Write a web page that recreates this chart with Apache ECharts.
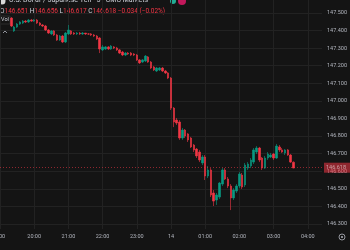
<!DOCTYPE html>
<html>
<head>
<meta charset="utf-8">
<script src="https://cdn.jsdelivr.net/npm/echarts@6/dist/echarts.min.js"></script>
<style>
html,body{margin:0;padding:0;background:#141414;}
#c{width:350px;height:250px;}
</style>
</head>
<body>
<div id="c"></div>
<script>
// Axis categories (5-minute bars)
var axisTimes = [
'19:00','19:05','19:10','19:15','19:20','19:25','19:30','19:35','19:40','19:45','19:50','19:55',
'20:00','20:05','20:10','20:15','20:20','20:25','20:30','20:35','20:40','20:45','20:50','20:55',
'21:00','21:05','21:10','21:15','21:20','21:25','21:30','21:35','21:40','21:45','21:50','21:55',
'22:00','22:05','22:10','22:15','22:20','22:25','22:30','22:35','22:40','22:45','22:50','22:55',
'23:00','23:05','23:10','23:15','23:20','23:25','23:30','23:35','23:40','23:45','23:50','23:55',
'00:00','00:05','00:10','00:15','00:20','00:25','00:30','00:35','00:40','00:45','00:50','00:55',
'01:00','01:05','01:10','01:15','01:20','01:25','01:30','01:35','01:40','01:45','01:50','01:55',
'02:00','02:05','02:10','02:15','02:20','02:25','02:30','02:35','02:40','02:45','02:50','02:55',
'03:00','03:05','03:10','03:15','03:20','03:25','03:30','03:35','03:40','03:45','03:50','03:55',
'04:00','04:05','04:10','04:15','04:20','04:25'
];

// Candle times
var candleTimes = [
'19:20','19:25','19:30','19:35','19:40','19:45','19:50','19:55','20:00','20:05',
'20:10','20:15','20:20','20:25','20:30','20:35','20:40','20:45','20:50','20:55',
'21:00','21:05','21:10','21:15','21:20','21:25','21:30','21:35','21:40','21:45',
'21:50','21:55','22:00','22:05','22:10','22:15','22:20','22:25','22:30','22:35',
'22:40','22:45','22:50','22:55','23:00','23:05','23:10','23:15','23:20','23:25',
'23:30','23:35','23:40','23:45','23:50','23:55','00:00','00:05','00:10','00:15',
'00:20','00:25','00:30','00:35','00:40','00:45','00:50','00:55','01:00','01:05',
'01:10','01:15','01:20','01:25','01:30','01:35','01:40','01:45','01:50','01:55',
'02:00','02:05','02:10','02:15','02:20','02:25','02:30','02:35','02:40','02:45',
'02:50','02:55','03:00','03:05','03:10','03:15','03:20','03:25','03:30','03:35'
];

var opens = [
147.471,147.398,147.420,147.437,147.443,147.454,147.449,147.460,147.454,147.460,
147.443,147.432,147.426,147.403,147.381,147.398,147.375,147.346,147.369,147.335,
147.381,147.398,147.386,147.381,147.386,147.381,147.386,147.381,147.381,147.375,
147.369,147.358,147.290,147.295,147.307,147.295,147.307,147.301,147.290,147.278,
147.261,147.272,147.272,147.267,147.261,147.233,147.221,147.227,147.250,147.221,
147.193,147.170,147.176,147.187,147.170,147.159,147.130,146.959,146.891,146.880,
146.789,146.834,146.812,146.789,146.749,146.726,146.709,146.647,146.681,146.573,
146.607,146.476,146.436,146.453,146.527,146.607,146.556,146.516,146.448,146.487,
146.516,146.578,146.522,146.618,146.630,146.652,146.709,146.732,146.675,146.618,
146.675,146.681,146.698,146.675,146.738,146.721,146.704,146.721,146.692,146.651
];
var closes = [
147.426,147.420,147.437,147.449,147.454,147.449,147.460,147.454,147.460,147.443,
147.432,147.426,147.403,147.386,147.398,147.375,147.346,147.369,147.335,147.386,
147.403,147.381,147.381,147.386,147.381,147.386,147.381,147.380,147.375,147.369,
147.352,147.295,147.307,147.307,147.295,147.312,147.301,147.290,147.272,147.261,
147.272,147.267,147.261,147.261,147.233,147.216,147.233,147.255,147.221,147.187,
147.176,147.187,147.187,147.170,147.159,147.130,146.959,146.880,146.874,146.789,
146.834,146.800,146.778,146.738,146.721,146.687,146.664,146.681,146.573,146.607,
146.465,146.430,146.465,146.533,146.607,146.556,146.516,146.448,146.493,146.516,
146.584,146.510,146.635,146.641,146.664,146.721,146.732,146.664,146.618,146.675,
146.698,146.692,146.675,146.743,146.721,146.709,146.721,146.692,146.652,146.618
];
var lows = [
147.420,147.392,147.415,147.432,147.437,147.443,147.443,147.449,147.449,147.437,
147.426,147.420,147.398,147.381,147.375,147.369,147.341,147.341,147.329,147.329,
147.375,147.375,147.375,147.375,147.375,147.375,147.375,147.375,147.369,147.363,
147.346,147.272,147.284,147.290,147.290,147.290,147.295,147.284,147.267,147.255,
147.255,147.261,147.255,147.255,147.227,147.210,147.216,147.221,147.216,147.181,
147.170,147.164,147.170,147.164,147.153,147.124,146.948,146.851,146.863,146.778,
146.778,146.789,146.766,146.732,146.709,146.675,146.652,146.635,146.550,146.561,
146.453,146.402,146.408,146.442,146.516,146.550,146.504,146.379,146.436,146.476,
146.504,146.499,146.510,146.607,146.618,146.641,146.698,146.652,146.607,146.613,
146.664,146.675,146.664,146.670,146.709,146.704,146.692,146.687,146.647,146.617
];
var highs = [
147.477,147.426,147.443,147.454,147.460,147.460,147.466,147.466,147.466,147.466,
147.449,147.437,147.432,147.409,147.403,147.403,147.381,147.375,147.375,147.392,
147.432,147.403,147.392,147.392,147.392,147.392,147.386,147.386,147.386,147.381,
147.375,147.363,147.318,147.312,147.312,147.318,147.312,147.307,147.295,147.284,
147.278,147.278,147.278,147.272,147.267,147.238,147.238,147.261,147.255,147.227,
147.199,147.193,147.193,147.193,147.176,147.164,147.136,146.965,146.903,146.891,
146.846,146.840,146.817,146.795,146.755,146.732,146.721,146.692,146.692,146.630,
146.618,146.493,146.476,146.539,146.618,146.618,146.567,146.527,146.504,146.527,
146.596,146.590,146.647,146.652,146.675,146.732,146.743,146.738,146.681,146.687,
146.709,146.704,146.704,146.755,146.749,146.732,146.726,146.726,146.698,146.656
];

var lastPrice = 146.618;
var headerTitle = 'U.S. Dollar / Japanese Yen · 5 · CMC Markets';
var ohlcLabels = ['146.651','146.656','146.617','146.618','−0.034 (−0.02%)'];

var UP = '#089981', DOWN = '#f23645';
var FONT = 'Roboto, "Noto Sans", sans-serif';

var candleData = [];
for (var i = 0; i < candleTimes.length; i++) {
  candleData.push([candleTimes[i], opens[i], closes[i], lows[i], highs[i]]);
}

var isHour = function (idx, val) { return /:00$/.test(val); };

var chart = echarts.init(document.getElementById('c'), null, {renderer: 'canvas'});
chart.setOption({
  backgroundColor: '#141414',
  animation: false,
  grid: {left: -1.7, right: 24.9, top: 0, height: 229, containLabel: false},
  xAxis: {
    type: 'category',
    data: axisTimes,
    boundaryGap: false,
    axisLine: {show: false},
    axisTick: {show: false},
    axisLabel: {
      interval: isHour,
      showMinLabel: false,
      formatter: function (v) { return v === '00:00' ? '14' : v; },
      color: '#b2b5be', fontSize: 5.5, fontFamily: FONT, margin: 5
    },
    splitLine: {show: true, interval: isHour, lineStyle: {color: '#222222', width: 1}}
  },
  yAxis: {
    type: 'value',
    position: 'right',
    min: 146.2713,
    max: 147.5739,
    splitNumber: 12,
    scale: true,
    axisLine: {show: false},
    axisTick: {show: false},
    axisLabel: {
      color: '#b2b5be', fontSize: 5.5, fontFamily: FONT, margin: 5,
      showMinLabel: false, showMaxLabel: false,
      formatter: function (v) { return v.toFixed(3); }
    },
    splitLine: {show: true, showMinLine: false, showMaxLine: false, lineStyle: {color: '#222222', width: 1}}
  },
  series: [{
    type: 'candlestick',
    data: candleData,
    encode: {x: 0, y: [1, 2, 3, 4]},
    barWidth: 2,
    itemStyle: {color: UP, color0: DOWN, borderColor: UP, borderColor0: DOWN, borderWidth: 0.6},
    markLine: {
      silent: true,
      symbol: 'none',
      data: [{yAxis: lastPrice}],
      lineStyle: {color: DOWN, type: [1, 2], width: 1, opacity: 0.55},
      label: {
        show: true, position: 'end', distance: 2,
        formatter: lastPrice.toFixed(3),
        backgroundColor: DOWN, color: '#ffffff', fontSize: 5.5, fontFamily: FONT,
        padding: [2, 8, 2, 2]
      }
    }
  }],
  graphic: [
    {type: 'circle', shape: {cx: 2, cy: 1, r: 3.5}, style: {fill: '#d9d9d9'}},
    {type: 'text', x: 9, y: -3, style: {text: headerTitle, fill: '#d1d4dc', fontSize: 7, fontFamily: FONT}},
    {type: 'circle', shape: {cx: 173, cy: 1, r: 3}, style: {fill: '#22ab94'}},
    {type: 'circle', shape: {cx: 182, cy: 1, r: 4}, style: {fill: '#c2185b'}},
    {type: 'text', x: 0, y: 7.5, style: {
      text: 'O{r|' + ohlcLabels[0] + '} H{r|' + ohlcLabels[1] + '} L{r|' + ohlcLabels[2] + '} C{r|' + ohlcLabels[3] + '} {r|' + ohlcLabels[4] + '}',
      fill: '#d1d4dc', fontSize: 6.5, fontFamily: FONT,
      rich: {r: {fill: DOWN, fontSize: 6.5, fontFamily: FONT}}
    }},
    {type: 'rect', shape: {x: -1, y: 16, width: 11, height: 8}, style: {fill: '#141414', stroke: '#3a3a3a', lineWidth: 0.6}},
    {type: 'text', x: 1, y: 17, style: {text: 'Vol', fill: '#d1d4dc', fontSize: 5.5, fontFamily: FONT}},
    {type: 'polyline', shape: {points: [[3, 33], [5, 31], [7, 33]]}, style: {stroke: '#b2b5be', lineWidth: 0.8, fill: null}},
    {type: 'text', x: -1.7, y: 237, style: {text: '19:00', fill: '#b2b5be', fontSize: 5.5, fontFamily: FONT, align: 'center', verticalAlign: 'middle'}},
    {type: 'circle', shape: {cx: 342, cy: 237, r: 3}, style: {fill: 'none', stroke: '#b2b5be', lineWidth: 0.8}},
    {type: 'circle', shape: {cx: 342, cy: 237, r: 1}, style: {fill: '#b2b5be'}}
  ]
});
</script>
</body>
</html>
